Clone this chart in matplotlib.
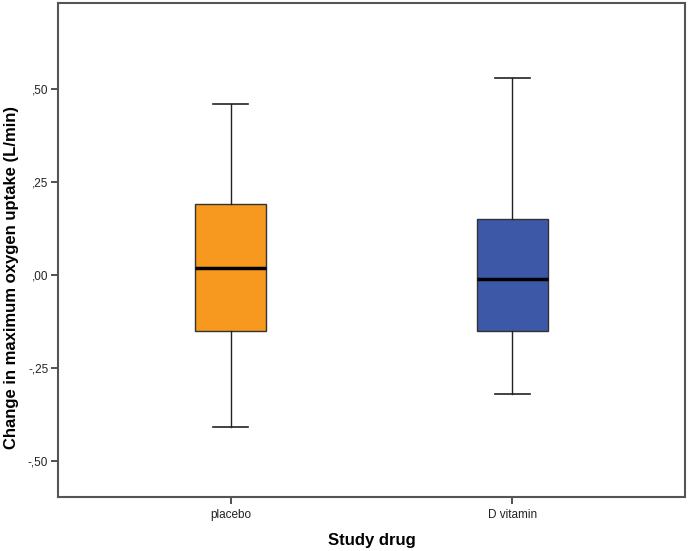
"""Box plot of change in maximum oxygen uptake by study drug"""
from matplotlib import pyplot as plt

GROUPS = ["placebo", "D vitamin"]
COLORS = ["#F7991F", "#3E58A8"]
# whisker low, q1, median, q3, whisker high
WHISKER_LOW = [-0.41, -0.32]
Q1 = [-0.15, -0.15]
MEDIAN = [0.02, -0.01]
Q3 = [0.19, 0.15]
WHISKER_HIGH = [0.46, 0.53]

Y_TICKS = [0.50, 0.25, 0.00, -0.25, -0.50]
Y_TICK_LABELS = [",50", ",25", ",00", "-,25", "-,50"]

plt.rcParams["font.family"] = ["Liberation Sans", "DejaVu Sans"]

fig = plt.figure(figsize=(6.88, 5.51), dpi=100)
ax = fig.add_axes([0.0843, 0.098, 0.9113, 0.8966])

stats = []
for i, name in enumerate(GROUPS):
    stats.append(
        {
            "label": name,
            "whislo": WHISKER_LOW[i],
            "q1": Q1[i],
            "med": MEDIAN[i],
            "q3": Q3[i],
            "whishi": WHISKER_HIGH[i],
            "fliers": [],
        }
    )

bp = ax.bxp(
    stats,
    positions=[1, 2],
    widths=0.252,
    capwidths=0.125,
    patch_artist=True,
    showfliers=False,
    boxprops={"edgecolor": "#333333", "linewidth": 1.0},
    medianprops={"color": "black", "linewidth": 2.5},
    whiskerprops={"color": "#222222", "linewidth": 1.0},
    capprops={"color": "#222222", "linewidth": 1.2},
)
for patch, color in zip(bp["boxes"], COLORS):
    patch.set_facecolor(color)

ax.set_xlim(0.388, 2.612)
ax.set_ylim(-0.597, 0.732)
ax.set_yticks(Y_TICKS, Y_TICK_LABELS)
ax.set_xticks([1, 2], GROUPS)
ax.tick_params(axis="both", labelsize=8.5, color="#333333", width=1.2,
               length=5, labelcolor="#222222")
ax.tick_params(axis="y", pad=2)

for spine in ax.spines.values():
    spine.set_color("#555555")
    spine.set_linewidth(1.5)

ax.set_xlabel("Study drug", fontsize=12, fontweight="bold")
ax.set_ylabel("Change in maximum oxygen uptake (L/min)", fontsize=12,
              fontweight="bold")
ax.xaxis.set_label_coords(0.5, -0.072)
ax.yaxis.set_label_coords(-0.062, 0.445)

plt.savefig("out.png", dpi=100)
